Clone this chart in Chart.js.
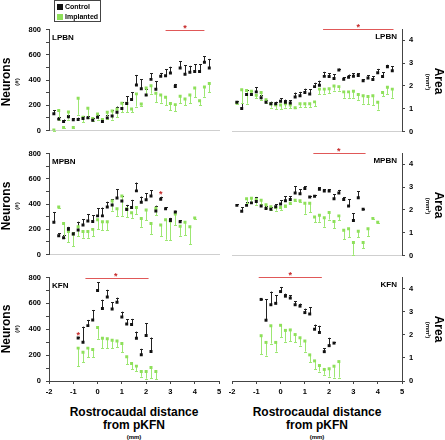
<!DOCTYPE html>
<html>
<head>
<meta charset="utf-8">
<script src="https://cdn.jsdelivr.net/npm/chart.js@4/dist/chart.umd.min.js"></script>
<style>
  body { margin: 0; width: 445px; height: 440px; position: relative; background: #fff; overflow: hidden;
         font-family: Arial, "Liberation Sans", sans-serif; }
  .pane { position: absolute; }
  .t { position: absolute; font-weight: bold; color: #000; white-space: nowrap; transform: translate(-50%, -50%); }
  .rl { transform: translate(-50%, -50%) rotate(-90deg); }
  .rr { transform: translate(-50%, -50%) rotate(90deg); }
  #legend { position: absolute; left: 54px; top: 0; width: 47px; height: 22px; border: 1px solid #444; box-sizing: border-box; }
  #legend div { position: absolute; left: 2px; font-size: 7px; font-weight: bold; line-height: 8px; white-space: nowrap; }
  #legend span { display: inline-block; width: 6px; height: 6px; margin-right: 2px; vertical-align: -1px; }
</style>
</head>
<body>

<div class="pane" style="left:0;top:20px"><canvas id="c1" width="225" height="120"></canvas></div>
<div class="pane" style="left:225px;top:20px"><canvas id="c2" width="220" height="120"></canvas></div>
<div class="pane" style="left:0;top:144px"><canvas id="c3" width="225" height="120"></canvas></div>
<div class="pane" style="left:225px;top:144px"><canvas id="c4" width="220" height="120"></canvas></div>
<div class="pane" style="left:0;top:268px"><canvas id="c5" width="225" height="130"></canvas></div>
<div class="pane" style="left:225px;top:268px"><canvas id="c6" width="220" height="130"></canvas></div>

<div id="legend">
  <div style="top:2px"><span style="background:#111"></span>Control</div>
  <div style="top:12px"><span style="background:#8ee05a"></span>Implanted</div>
</div>

<div class="t rl" style="left:6px;top:82px;font-size:12px">Neurons</div>
<div class="t rl" style="left:17px;top:82px;font-size:6px">(#)</div>
<div class="t rl" style="left:6px;top:206px;font-size:12px">Neurons</div>
<div class="t rl" style="left:17px;top:206px;font-size:6px">(#)</div>
<div class="t rl" style="left:6px;top:329px;font-size:12px">Neurons</div>
<div class="t rl" style="left:17px;top:329px;font-size:6px">(#)</div>

<div class="t rr" style="left:439px;top:81px;font-size:12px">Area</div>
<div class="t rr" style="left:428px;top:82px;font-size:6px">(mm²)</div>
<div class="t rr" style="left:439px;top:205px;font-size:12px">Area</div>
<div class="t rr" style="left:428px;top:206px;font-size:6px">(mm²)</div>
<div class="t rr" style="left:439px;top:329px;font-size:12px">Area</div>
<div class="t rr" style="left:428px;top:330px;font-size:6px">(mm²)</div>

<div class="t" style="left:134px;top:412px;font-size:12px">Rostrocaudal distance</div>
<div class="t" style="left:134px;top:425px;font-size:12px">from pKFN</div>
<div class="t" style="left:134px;top:437px;font-size:6px">(mm)</div>
<div class="t" style="left:317px;top:412px;font-size:12px">Rostrocaudal distance</div>
<div class="t" style="left:317px;top:425px;font-size:12px">from pKFN</div>
<div class="t" style="left:317px;top:437px;font-size:6px">(mm)</div>

<script>
// rostrocaudal positions (mm from pKFN)
const xLPBN = [-1.8,-1.6,-1.4,-1.2,-1.0,-0.8,-0.6,-0.4,-0.2,0,0.2,0.4,0.6,0.8,1.0,1.2,1.4,1.6,1.8,2.0,2.2,2.4,2.6,2.8,3.0,3.2,3.4,3.6,3.8,4.0,4.2,4.4,4.6];
const xMPBNCtrl = [-1.8,-1.6,-1.4,-1.2,-1.0,-0.8,-0.6,-0.4,-0.2,0,0.2,0.4,0.6,0.8,1.0,1.2,1.4,1.6,1.8,2.0,2.2,2.4,2.6,2.8,3.0,3.2,3.4];
const xMPBNImpN = [-1.6,-1.4,-1.2,-1.0,-0.8,-0.6,-0.4,-0.2,0,0.2,0.4,0.6,0.8,1.0,1.2,1.4,1.6,1.8,2.0,2.2,2.4,2.6,2.8,3.0,3.2,3.4,3.6,3.8,4.0];
const xMPBNImpA = [-1.4,-1.2,-1.0,-0.8,-0.6,-0.4,-0.2,0,0.2,0.4,0.6,0.8,1.0,1.2,1.4,1.6,1.8,2.0,2.2,2.4,2.6,2.8,3.0,3.2,3.4,3.6,3.8,4.0];
const xKFNCtrl = [-0.8,-0.6,-0.4,-0.2,0,0.2,0.4,0.6,0.8,1.0,1.2,1.4,1.6,1.8,2.0,2.2];
const xKFNImp = [-0.8,-0.6,-0.4,-0.2,0,0.2,0.4,0.6,0.8,1.0,1.2,1.4,1.6,1.8,2.0,2.2,2.4];

// LPBN
const lpbnNeuCtrl = [133,90,72,108,85,87,95,100,82,105,72,100,115,144,174,213,246,361,331,282,405,326,430,433,456,349,495,446,461,467,467,541,495];
const lpbnNeuCtrlErr = [26,18,15,15,13,15,20,18,15,18,15,23,44,46,51,59,59,79,74,44,49,64,26,51,49,20,54,69,51,56,59,46,72];
const lpbnNeuImp = [5,159,23,146,23,256,105,177,95,131,87,144,154,169,215,215,170,290,210,336,354,295,282,264,213,205,272,249,282,336,236,344,372];
const lpbnNeuImpErr = [5,72,5,59,5,131,38,77,23,44,20,56,67,62,72,70,25,100,13,51,62,69,62,64,54,51,56,49,67,74,36,77,67];
const lpbnAreaCtrl = [1.28,1.01,1.62,1.62,1.74,1.48,1.28,1.22,1.22,1.33,1.28,1.25,1.51,1.57,1.71,1.65,1.97,2.03,2.42,2.41,2.33,2.70,2.29,2.38,2.43,2.46,2.23,2.35,2.28,2.58,2.41,2.84,2.67];
const lpbnAreaCtrlErr = [0.06,0.23,0.2,0.17,0.2,0.12,0.09,0.09,0.09,0.12,0.12,0.12,0.2,0.17,0.17,0.2,0.17,0.2,0.2,0.14,0.19,0.06,0.09,0.12,0.12,0.09,0.06,0.12,0.14,0.17,0.2,0.09,0.2];
const lpbnAreaImp = [1.25,1.83,1.80,1.77,1.59,1.71,1.39,1.22,1.16,1.16,1.22,1.16,1.04,1.22,1.22,1.22,1.30,1.86,1.86,1.88,2.00,1.97,1.74,1.74,1.77,1.62,1.57,1.54,1.57,1.28,1.71,1.94,1.86];
const lpbnAreaImpErr = [0.03,0.58,0.58,0.14,0.14,0.32,0.12,0.17,0.17,0.17,0.17,0.14,0.03,0.14,0.14,0.14,0.2,0.23,0.2,0.2,0.2,0.17,0.26,0.26,0.29,0.23,0.35,0.35,0.41,0.32,0.17,0.29,0.38];

// MPBN
const mpbnNeuCtrl = [255,148,132,199,163,194,234,265,262,306,306,377,392,448,423,357,372,504,413,433,464,344,438,362,270,336,260];
const mpbnNeuCtrlErr = [82,20,20,20,15,66,46,56,48,61,66,41,46,71,41,36,61,66,46,51,46,43,20,13,20,10,13];
const mpbnNeuImp = [377,245,183,163,219,183,183,199,275,260,260,423,362,464,362,331,372,285,352,245,367,234,275,265,321,224,255,219,290];
const mpbnNeuImpErr = [5,117,87,97,76,51,51,56,76,66,66,76,56,158,66,41,51,66,82,82,56,87,158,153,87,76,102,138,5];
const mpbnAreaCtrl = [2.2,1.94,2.2,2.31,2.37,2.17,2.06,2.03,2.14,2.26,2.4,2.46,2.74,2.71,2.94,2.57,2.6,2.91,2.83,2.83,2.49,2.74,2.46,2.17,1.54,2.54,2.03];
const mpbnAreaCtrlErr = [0.04,0.17,0.14,0.06,0.2,0.09,0.11,0.09,0.11,0.17,0.2,0.14,0.29,0.2,0.09,0.04,0.04,0.09,0.09,0.09,0.2,0.14,0.11,0.29,0.31,0.29,0.03];
const mpbnAreaImp = [2.49,2.51,2.46,2.43,2.23,2.14,2.11,2.11,2.17,2.29,2.43,2.4,2.29,2.29,1.69,1.77,1.66,1.89,1.49,1.74,1.11,1.17,0.57,1.06,0.57,1.17,1.63,1.46];
const mpbnAreaImpErr = [0.2,0.17,0.23,0.17,0.14,0.14,0.14,0.11,0.04,0.04,0.04,0.04,0.46,0.4,0.23,0.29,0.4,0.31,0.29,0.2,0.4,0.37,0.54,0.26,0.26,0.31,0.03,0.03];

// KFN
const kfnNeuCtrl = [333,300,428,472,700,561,649,556,608,495,441,436,331,203,351,228];
const kfnNeuCtrlErr = [5,120,44,77,62,67,56,51,36,41,38,44,51,46,97,108];
const kfnNeuImp = [254,223,254,244,413,331,326,315,310,290,187,136,115,74,74,105,74];
const kfnNeuImpErr = [141,77,72,62,87,77,72,62,51,67,56,46,41,41,56,82,62];
const kfnAreaCtrl = [3.53,2.63,3.3,3.36,3.87,3.67,3.59,3.3,3.24,2.96,2.9,2.24,2.1,1.27,1.53,1.64];
const kfnAreaCtrlErr = [0.03,0.9,0.57,0.34,0.2,0.11,0.11,0.14,0.11,0.17,0.29,0.2,0.29,0.14,0.34,0.03];
const kfnAreaImp = [1.96,1.67,2.39,1.67,2.41,2.19,2.21,2.01,1.87,1.73,1.13,0.87,0.67,0.5,0.53,0.64,0.84];
const kfnAreaImpErr = [0.8,0.57,0.77,0.4,0.51,0.49,0.49,0.34,0.34,0.46,0.31,0.37,0.26,0.23,0.34,0.49,0.69];

// significance: [from, to, level, star position]
const sigLPBNNeu = [2.8, 4.4, 800, 3.6];
const sigLPBNArea = [1.75, 4.65, 4.5, 3.2];
const sigMPBNArea = [1.35, 3.5, 4.5, 2.4];
const sigKFNNeu = [-0.5, 2.1, 800, 0.75];
const sigKFNArea = [-0.9, 1.7, 4.5, 0.4];
// single starred points [x, y]
const starMPBNNeu = [2.6, 494];
const starKFNNeu = [-0.8, 367];

const BLACK = '#111';
const GREEN = '#8ee05a';
const GREEN_BAR = '#9de773';
const RED = '#e05858';
const AXIS = '#444';
const tickFont = { family: 'Arial, "Liberation Sans"', size: 7.5, weight: 'bold' };

function pts(xs, ys) {
  return xs.map((x, i) => ({ x: x, y: ys[i] }));
}

function panel(id, o) {
  const left = o.side === 'left';
  const extras = {
    id: 'extras',
    beforeDatasetsDraw(chart) {
      const ctx = chart.ctx, xs = chart.scales.x, ys = chart.scales.y;
      chart.data.datasets.forEach(ds => {
        ctx.save();
        ctx.strokeStyle = ds.barColor;
        ctx.lineWidth = 1;
        ds.data.forEach((p, i) => {
          const px = Math.round(xs.getPixelForValue(p.x)) + 0.5;
          const y0 = ys.getPixelForValue(p.y);
          const y1 = ys.getPixelForValue(p.y + ds.dir * ds.err[i]);
          ctx.beginPath();
          ctx.moveTo(px, y0);
          ctx.lineTo(px, y1);
          ctx.moveTo(px - 1.5, Math.round(y1) + 0.5);
          ctx.lineTo(px + 1.5, Math.round(y1) + 0.5);
          ctx.stroke();
        });
        ctx.restore();
      });
    },
    afterDraw(chart) {
      const ctx = chart.ctx, xs = chart.scales.x, ys = chart.scales.y, a = chart.chartArea;
      ctx.save();
      ctx.fillStyle = '#000';
      ctx.font = 'bold 8px Arial, "Liberation Sans"';
      ctx.textBaseline = 'middle';
      if (left) { ctx.textAlign = 'left'; ctx.fillText(o.label, a.left + 3, a.top + 8); }
      else { ctx.textAlign = 'right'; ctx.fillText(o.label, a.right - 5, a.top + 8); }
      ctx.fillStyle = '#c62828';
      ctx.font = 'bold 9px Arial, "Liberation Sans"';
      ctx.textAlign = 'center';
      if (o.sig) {
        const yy = Math.round(ys.getPixelForValue(o.sig[2])) + 0.5;
        ctx.strokeStyle = RED;
        ctx.lineWidth = 1;
        ctx.beginPath();
        ctx.moveTo(xs.getPixelForValue(o.sig[0]), yy);
        ctx.lineTo(xs.getPixelForValue(o.sig[1]), yy);
        ctx.stroke();
        ctx.fillText('*', xs.getPixelForValue(o.sig[3]), yy - 2);
      }
      if (o.star) {
        ctx.fillText('*', xs.getPixelForValue(o.star[0]), ys.getPixelForValue(o.star[1]) + 2);
      }
      ctx.restore();
    }
  };

  const xAxis = {
    type: 'linear', min: -2, max: 5,
    afterFit: s => { s.height = o.bottom ? 17 : 7; },
    border: { display: true, color: o.bottom ? AXIS : '#cfcfcf' }
  };
  if (o.bottom) {
    xAxis.ticks = { stepSize: 1, font: tickFont, color: '#000', padding: 3, maxRotation: 0 };
    xAxis.grid = { drawOnChartArea: false, drawTicks: true, tickLength: 3, color: AXIS };
  } else {
    xAxis.ticks = { display: false };
    xAxis.grid = { display: false };
  }

  const yAxis = {
    type: 'linear', position: o.side, min: 0, max: o.max,
    afterFit: s => { s.width = left ? 49 : 43; },
    border: { display: true, color: AXIS },
    grid: { drawOnChartArea: false, drawTicks: true, tickLength: 3, color: AXIS },
    ticks: {
      stepSize: o.step, font: tickFont, color: '#000', padding: left ? 5 : 4,
      callback: v => (Math.abs(v / o.major - Math.round(v / o.major)) < 1e-6 ? String(v) : '')
    }
  };

  new Chart(document.getElementById(id), {
    type: 'scatter',
    data: {
      datasets: [
        { label: 'Control', data: pts(o.xc, o.yc), err: o.ec, dir: 1, barColor: '#222',
          backgroundColor: BLACK, borderColor: BLACK, pointStyle: 'rect', pointRadius: 2.1, borderWidth: 0 },
        { label: 'Implanted', data: pts(o.xi, o.yi), err: o.ei, dir: -1, barColor: GREEN_BAR,
          backgroundColor: GREEN, borderColor: GREEN, pointStyle: 'rect', pointRadius: 2.1, borderWidth: 0 }
      ]
    },
    options: {
      responsive: false,
      animation: false,
      layout: { padding: left ? { top: 9, right: 6, bottom: 0, left: 0 } : { top: 9, right: 0, bottom: 0, left: 7 } },
      plugins: { legend: { display: false }, tooltip: { enabled: false } },
      scales: { x: xAxis, y: yAxis }
    },
    plugins: [extras]
  });
}

panel('c1', { side: 'left', label: 'LPBN', max: 800, step: 100, major: 200,
  xc: xLPBN, yc: lpbnNeuCtrl, ec: lpbnNeuCtrlErr, xi: xLPBN, yi: lpbnNeuImp, ei: lpbnNeuImpErr, sig: sigLPBNNeu });
panel('c2', { side: 'right', label: 'LPBN', max: 4.5, step: 0.5, major: 1,
  xc: xLPBN, yc: lpbnAreaCtrl, ec: lpbnAreaCtrlErr, xi: xLPBN, yi: lpbnAreaImp, ei: lpbnAreaImpErr, sig: sigLPBNArea });
panel('c3', { side: 'left', label: 'MPBN', max: 800, step: 100, major: 200,
  xc: xMPBNCtrl, yc: mpbnNeuCtrl, ec: mpbnNeuCtrlErr, xi: xMPBNImpN, yi: mpbnNeuImp, ei: mpbnNeuImpErr, star: starMPBNNeu });
panel('c4', { side: 'right', label: 'MPBN', max: 4.5, step: 0.5, major: 1,
  xc: xMPBNCtrl, yc: mpbnAreaCtrl, ec: mpbnAreaCtrlErr, xi: xMPBNImpA, yi: mpbnAreaImp, ei: mpbnAreaImpErr, sig: sigMPBNArea });
panel('c5', { side: 'left', label: 'KFN', max: 800, step: 100, major: 200, bottom: true,
  xc: xKFNCtrl, yc: kfnNeuCtrl, ec: kfnNeuCtrlErr, xi: xKFNImp, yi: kfnNeuImp, ei: kfnNeuImpErr, sig: sigKFNNeu, star: starKFNNeu });
panel('c6', { side: 'right', label: 'KFN', max: 4.5, step: 0.5, major: 1, bottom: true,
  xc: xKFNCtrl, yc: kfnAreaCtrl, ec: kfnAreaCtrlErr, xi: xKFNImp, yi: kfnAreaImp, ei: kfnAreaImpErr, sig: sigKFNArea });
</script>
</body>
</html>
